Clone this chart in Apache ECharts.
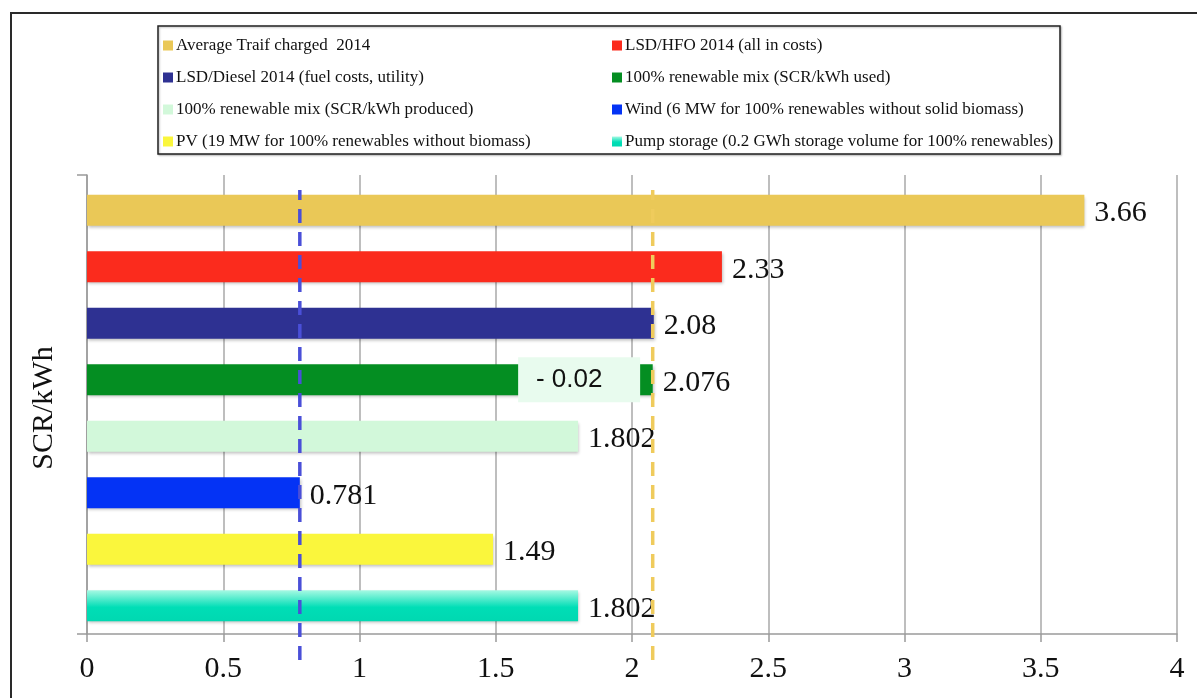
<!DOCTYPE html>
<html>
<head>
<meta charset="utf-8">
<script src="https://cdn.jsdelivr.net/npm/echarts@6/dist/echarts.min.js"></script>
<style>
  html, body { margin: 0; padding: 0; background: #fff; }
  #chart { width: 1197px; height: 698px; }
</style>
</head>
<body>
<div id="chart"></div>
<script>
// Cost options, one bar each, top to bottom
const seriesNames = [
  'Average Traif charged  2014',
  'LSD/HFO 2014 (all in costs)',
  'LSD/Diesel 2014 (fuel costs, utility)',
  '100% renewable mix (SCR/kWh used)',
  '100% renewable mix (SCR/kWh produced)',
  'Wind (6 MW for 100% renewables without solid biomass)',
  'PV (19 MW for 100% renewables without biomass)',
  'Pump storage (0.2 GWh storage volume for 100% renewables)'
];
const values = [3.66, 2.33, 2.08, 2.076, 1.802, 0.781, 1.49, 1.802];
const xTicks = { min: 0, max: 4, interval: 0.5 };

// Dashed reference lines: wind cost and renewable-mix (used) cost
const refLines = [
  { value: values[5], color: '#4A4FD8' },
  { value: values[3], color: '#EFCB5C' }
];

// Annotation box on the renewable-mix (used) bar
const noteText = '- 0.02';
const noteAt = 1.806;

const colors = [
  '#EAC857',
  '#FB2B1D',
  '#2E3192',
  '#048E22',
  '#D2F8DA',
  '#0433F5',
  '#FAF63C',
  new echarts.graphic.LinearGradient(0, 0, 0, 1, [
    { offset: 0, color: '#A6F9E3' },
    { offset: 0.55, color: '#00DEB6' },
    { offset: 1, color: '#00D8B1' }
  ])
];

const serif = '"Liberation Serif", "Times New Roman", serif';

const barSeries = seriesNames.map((name, i) => {
  const data = values.map((v, j) => (j === i ? v : '-'));
  const s = {
    name,
    type: 'bar',
    xAxisIndex: 0,
    yAxisIndex: 0,
    barWidth: 31,
    barGap: '-100%',
    data,
    itemStyle: {
      color: colors[i],
      shadowColor: 'rgba(0,0,0,0.25)',
      shadowBlur: 3,
      shadowOffsetX: 1,
      shadowOffsetY: 2
    },
    label: {
      show: true,
      position: 'right',
      distance: 10,
      offset: [0, 3],
      formatter: p => String(p.value),
      fontFamily: serif,
      fontSize: 30,
      color: '#111'
    },
    z: 2
  };
  if (i === 3) {
    s.markPoint = {
      symbol: 'rect',
      symbolSize: [122, 45],
      itemStyle: { color: '#E8FBEE' },
      label: {
        show: true,
        position: 'inside',
        offset: [-10, 0],
        formatter: noteText,
        fontFamily: '"Liberation Sans", Arial, sans-serif',
        fontSize: 26,
        color: '#111'
      },
      data: [{ coord: [noteAt, 3] }],
      z: 3
    };
  }
  return s;
});

const lineSeries = refLines.map(r => ({
  type: 'line',
  xAxisIndex: 2,
  yAxisIndex: 2,
  data: [[r.value, 0], [r.value, 1]],
  symbol: 'none',
  silent: true,
  lineStyle: { color: r.color, width: 3.5, type: [14, 9] },
  z: 5
}));

const legendText = { fontFamily: serif, fontSize: 17, color: '#111', padding: [0, 0, 0, -2] };

const chart = echarts.init(document.getElementById('chart'));
chart.setOption({
  animation: false,
  backgroundColor: '#fff',
  graphic: [
    {
      type: 'rect',
      shape: { x: 11, y: 13, width: 1200, height: 700 },
      style: { fill: 'none', stroke: '#2a2a2a', lineWidth: 2 },
      silent: true
    },
    {
      type: 'rect',
      shape: { x: 158, y: 26, width: 902, height: 128 },
      style: { fill: '#fff', stroke: '#222', lineWidth: 1.5,
               shadowColor: 'rgba(0,0,0,0.25)', shadowBlur: 2, shadowOffsetX: 1, shadowOffsetY: 1 },
      silent: true,
      z: -1
    }
  ],
  legend: [
    {
      data: seriesNames.filter((_, i) => i % 2 === 0),
      orient: 'vertical',
      left: 158,
      top: 32,
      itemWidth: 10,
      itemHeight: 10,
      itemGap: 15,
      icon: 'rect',
      selectedMode: false,
      textStyle: legendText
    },
    {
      data: seriesNames.filter((_, i) => i % 2 === 1),
      orient: 'vertical',
      left: 607,
      top: 32,
      itemWidth: 10,
      itemHeight: 10,
      itemGap: 15,
      icon: 'rect',
      selectedMode: false,
      textStyle: legendText
    }
  ],
  grid: [
    { left: 87, right: 20, top: 182, bottom: 64 },
    { left: 87, right: 20, top: 175, bottom: 64 },
    { left: 87, right: 20, top: 190, bottom: 38 }
  ],
  xAxis: [
    {
      gridIndex: 0,
      type: 'value',
      min: xTicks.min,
      max: xTicks.max,
      interval: xTicks.interval,
      axisLine: { show: true, lineStyle: { color: '#9a9a9a', width: 1.5 } },
      axisTick: { show: true, length: 8, lineStyle: { color: '#9a9a9a', width: 1.5 } },
      splitLine: { show: false },
      axisLabel: { fontFamily: serif, fontSize: 30, color: '#111', margin: 20 }
    },
    {
      gridIndex: 1,
      type: 'value',
      min: xTicks.min,
      max: xTicks.max,
      interval: xTicks.interval,
      axisLine: { show: false },
      axisTick: { show: false },
      axisLabel: { show: false },
      splitLine: { show: true, lineStyle: { color: '#a8a8a8', width: 1.5 } }
    },
    {
      gridIndex: 2,
      type: 'value',
      min: xTicks.min,
      max: xTicks.max,
      show: false
    }
  ],
  yAxis: [
    {
      gridIndex: 0,
      type: 'category',
      inverse: true,
      data: seriesNames,
      axisLine: { show: false },
      axisTick: { show: false },
      axisLabel: { show: false },
      name: 'SCR/kWh',
      nameLocation: 'middle',
      nameRotate: 90,
      nameGap: 28,
      nameTextStyle: { fontFamily: serif, fontSize: 30, color: '#111' }
    },
    {
      gridIndex: 1,
      type: 'value',
      min: 0,
      max: 1,
      interval: 1,
      axisLine: { show: true, lineStyle: { color: '#9a9a9a', width: 1.5 } },
      axisTick: { show: true, length: 10, lineStyle: { color: '#9a9a9a', width: 1.5 } },
      axisLabel: { show: false },
      splitLine: { show: false }
    },
    {
      gridIndex: 2,
      type: 'value',
      min: 0,
      max: 1,
      show: false
    }
  ],
  series: [...barSeries, ...lineSeries]
});
</script>
</body>
</html>
